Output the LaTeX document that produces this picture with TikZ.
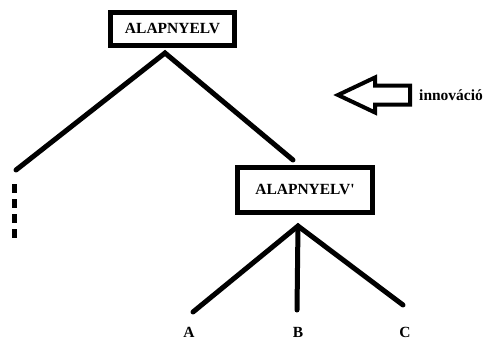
\documentclass[tikz,border=0pt]{standalone}
\usepackage{fontspec}
\setmainfont{Liberation Serif}
\begin{document}
\begin{tikzpicture}[x=1pt,y=-1pt,
  box/.style={draw=black,line width=5pt,minimum width=#1,inner sep=0pt,font=\fontsize{15.5}{18}\selectfont\bfseries},
  branch/.style={line width=5pt,line cap=round,line join=miter},
  lbl/.style={font=\fontsize{15.5}{18}\selectfont\bfseries,inner sep=0pt},
]
\useasboundingbox[fill=white] (0,0) rectangle (491,340);
\node[box=124pt,minimum height=33pt] (top) at (172.5,29) {ALAPNYELV};
\node[box=135pt,minimum height=45pt] (mid) at (305,190) {ALAPNYELV\textquotesingle};
\coordinate (apex1) at (165,53);
\coordinate (leftend) at (16,170);
\coordinate (midtop) at (293,160);
\coordinate (apex2) at (298,226);
\coordinate (aend) at (193,312);
\coordinate (bend) at (297,310);
\coordinate (cend) at (403,305);
\coordinate (dtop) at (14,184);
\coordinate (dbot) at (14,243);
\draw[branch] (leftend) -- (apex1) -- (midtop);
\draw[branch] (aend) -- (apex2) -- (cend);
\draw[branch] (apex2) -- (bend);
\draw[line width=5pt,dash pattern=on 9pt off 6pt] (dtop) -- (dbot);
\draw[line width=4pt,line join=miter] (338,95) -- (375,77.5) -- (375,85.5) -- (410,85.5) -- (410,104.5) -- (375,104.5) -- (375,112.5) -- cycle;
\node[lbl,anchor=base west] (inno) at (419,100) {innováció};
\node[lbl,anchor=base] (la) at (189,337.5) {A};
\node[lbl,anchor=base] (lb) at (298,337.5) {B};
\node[lbl,anchor=base] (lc) at (405,337.5) {C};
\end{tikzpicture}
\end{document}
